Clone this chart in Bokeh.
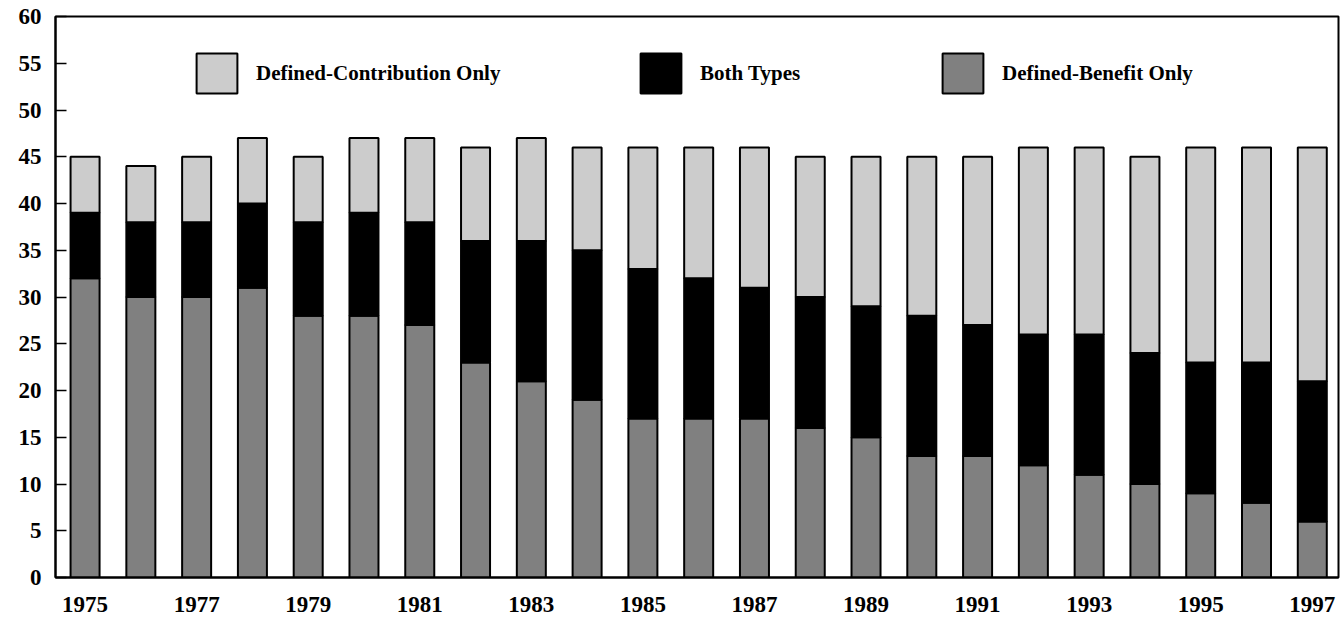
from bokeh.plotting import figure
from bokeh.models import ColumnDataSource, Range1d, FixedTicker, Legend, LegendItem
from bokeh.embed import file_html
from bokeh.resources import INLINE

years = list(range(1975, 1998))
defined_benefit = [32, 30, 30, 31, 28, 28, 27, 23, 21, 19, 17, 17, 17, 16, 15, 13, 13, 12, 11, 10, 9, 8, 6]
both_types = [7, 8, 8, 9, 10, 11, 11, 13, 15, 16, 16, 15, 14, 14, 14, 15, 14, 14, 15, 14, 14, 15, 15]
defined_contribution = [6, 6, 7, 7, 7, 8, 9, 10, 11, 11, 13, 14, 15, 15, 16, 17, 18, 20, 20, 21, 23, 23, 25]
series_names = ["Defined-Benefit Only", "Both Types", "Defined-Contribution Only"]
series_colors = ["#808080", "#000000", "#cccccc"]
x_tick_years = list(range(1975, 1998, 2))
y_ticks = list(range(0, 61, 5))

FONT = "Liberation Serif"

source = ColumnDataSource(dict(year=years, db=defined_benefit, both=both_types, dc=defined_contribution))

p = figure(width=1343, height=620, output_backend="svg", toolbar_location=None,
           x_range=Range1d(1974.47, 1997.47), y_range=Range1d(0, 60),
           min_border_left=55, min_border_right=5, min_border_top=16, min_border_bottom=43)

rs = p.vbar_stack(["db", "both", "dc"], x="year", width=0.52, source=source,
                  fill_color=series_colors, line_color="black", line_width=2)

p.xgrid.visible = False
p.ygrid.visible = False
p.outline_line_color = "black"
p.outline_line_width = 2
p.background_fill_color = "white"
p.border_fill_color = "white"

xa = p.xaxis[0]
xa.ticker = FixedTicker(ticks=x_tick_years)
xa.major_tick_in = 0
xa.major_tick_out = 0
xa.minor_tick_line_color = None
xa.axis_line_width = 2
xa.major_label_standoff = 19
xa.major_label_text_font = FONT
xa.major_label_text_font_style = "bold"
xa.major_label_text_font_size = "23px"
xa.major_label_text_color = "black"

ya = p.yaxis[0]
ya.ticker = FixedTicker(ticks=y_ticks)
ya.major_tick_in = 11
ya.major_tick_out = 0
ya.major_tick_line_width = 1.5
ya.minor_tick_line_color = None
ya.axis_line_width = 2
ya.major_label_standoff = 14
ya.major_label_text_font = FONT
ya.major_label_text_font_style = "bold"
ya.major_label_text_font_size = "23px"
ya.major_label_text_color = "black"

# legends: DC, Both, DB (left to right); legend glyph is drawn inset by 10%
order = [(2, 136), (1, 580), (0, 882)]
for idx, xloc in order:
    leg = Legend(items=[LegendItem(label=series_names[idx], renderers=[rs[idx]])],
                 location=(xloc, 479), orientation="horizontal",
                 glyph_width=51, glyph_height=50, label_standoff=14,
                 padding=0, margin=0, border_line_alpha=0, background_fill_alpha=0,
                 label_text_font=FONT, label_text_font_style="bold",
                 label_text_font_size="21px", label_text_color="black")
    p.add_layout(leg, "center")

open("out.html", "w").write(file_html(p, INLINE))
